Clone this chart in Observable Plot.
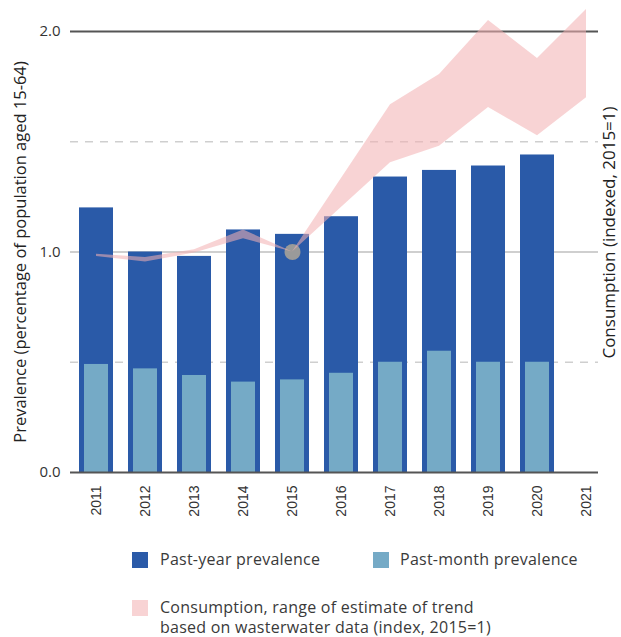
<!DOCTYPE html>
<html>
<head>
<meta charset="utf-8">
<script src="https://cdn.jsdelivr.net/npm/d3@7"></script>
<script src="https://cdn.jsdelivr.net/npm/@observablehq/plot@0.6"></script>
<style>
  html, body { margin: 0; padding: 0; background: #fff; }
  #wrap { position: relative; width: 621px; height: 637px; font-family: "Open Sans", sans-serif; color: #333; }
  .sw { position: absolute; width: 16px; height: 16px; }
  .lt { position: absolute; font-size: 16px; line-height: 20px; letter-spacing: 0.25px; color: #3a3a3a; white-space: nowrap; }
</style>
</head>
<body>
<div id="wrap"></div>
<script>
const years = ["2011","2012","2013","2014","2015","2016","2017","2018","2019","2020","2021"];
const barYears = ["2011","2012","2013","2014","2015","2016","2017","2018","2019","2020"];
const pastYear = [1.20, 1.00, 0.98, 1.10, 1.08, 1.16, 1.34, 1.37, 1.39, 1.44];
const pastMonth = [0.49, 0.47, 0.44, 0.41, 0.42, 0.45, 0.50, 0.55, 0.50, 0.50];
const consYears = ["2011","2012","2013","2014","2015","2017","2018","2019","2020","2021"];
const consLow  = [0.98, 0.955, 0.995, 1.06, 1.00, 1.405, 1.48, 1.655, 1.527, 1.70];
const consHigh = [0.99, 0.975, 1.010, 1.10, 1.00, 1.668, 1.805, 2.05, 1.877, 2.10];
const yTicks = [0, 1, 2];
const labels = {
  left: "Prevalence (percentage of population aged 15-64)",
  right: "Consumption (indexed, 2015=1)",
  pastYear: "Past-year prevalence",
  pastMonth: "Past-month prevalence",
  cons1: "Consumption, range of estimate of trend",
  cons2: "based on wasterwater data (index, 2015=1)"
};
const colors = { pastYear: "#2a5aa8", pastMonth: "#75aac6", cons: "#f2b1b3" };

const bars = barYears.map((y, i) => ({year: y, py: pastYear[i], pm: pastMonth[i]}));
const cons = consYears.map((y, i) => ({year: y, lo: consLow[i], hi: consHigh[i]}));

const chart = Plot.plot({
  width: 621,
  height: 530,
  marginLeft: 70,
  marginRight: 23,
  marginTop: 0,
  marginBottom: 58,
  style: { fontFamily: "Open Sans, sans-serif", color: "#333", background: "transparent" },
  x: { domain: years, range: [70, 611], paddingInner: 0.31, paddingOuter: 0.157 },
  y: { domain: [0, 2], range: [472, 31] },
  marks: [
    Plot.ruleY([0.5, 1.5], { stroke: "#cfcfcf", strokeWidth: 1.5, strokeDasharray: "8,7" }),
    Plot.ruleY([1], { stroke: "#cfcfcf", strokeWidth: 2 }),
    Plot.ruleY([2], { stroke: "#555", strokeWidth: 2 }),
    Plot.barY(bars, { x: "year", y: "py", fill: colors.pastYear }),
    Plot.barY(bars, { x: "year", y: "pm", fill: colors.pastMonth, insetLeft: 5, insetRight: 5 }),
    Plot.dot([{year: "2015", v: 1}], { x: "year", y: "v", r: 8, fill: "#9a9a9a" }),
    Plot.areaY(cons, { x: "year", y1: "lo", y2: "hi", fill: colors.cons, fillOpacity: 0.56 }),
    Plot.ruleY([0], { stroke: "#555", strokeWidth: 2 }),
    Plot.axisY(yTicks, { tickSize: 0, tickPadding: 10, tickFormat: d3.format(".1f"), fontSize: 15, label: null, fill: "#333" }),
    Plot.axisX({ tickRotate: -90, tickSize: 0, tickPadding: 13, fontSize: 14, fontFamily: "Liberation Sans, Arial, sans-serif", label: null, fill: "#333" }),
    Plot.text([labels.left], { frameAnchor: "left", y: [1.0], dx: -50, rotate: -90, textAnchor: "middle", fontSize: 16.5, fill: "#222", text: d => d }),
    Plot.text([labels.right], { frameAnchor: "right", dx: 11, dy: -4, rotate: -90, textAnchor: "middle", fontSize: 17, fill: "#222", text: d => d })
  ]
});

const wrap = document.getElementById("wrap");
chart.style.position = "absolute";
chart.style.left = "0px";
chart.style.top = "0px";
wrap.appendChild(chart);

function sw(x, y, c) { const d = document.createElement("div"); d.className = "sw"; d.style.left = x + "px"; d.style.top = y + "px"; d.style.background = c; wrap.appendChild(d); }
function lt(x, y, t) { const d = document.createElement("div"); d.className = "lt"; d.style.left = x + "px"; d.style.top = y + "px"; d.textContent = t; wrap.appendChild(d); }
sw(132, 552, colors.pastYear); lt(160, 549, labels.pastYear);
sw(373, 552, colors.pastMonth); lt(400, 549, labels.pastMonth);
sw(132, 600, "#f8d3d4"); lt(160, 597, labels.cons1); lt(160, 617, labels.cons2);
</script>
</body>
</html>
